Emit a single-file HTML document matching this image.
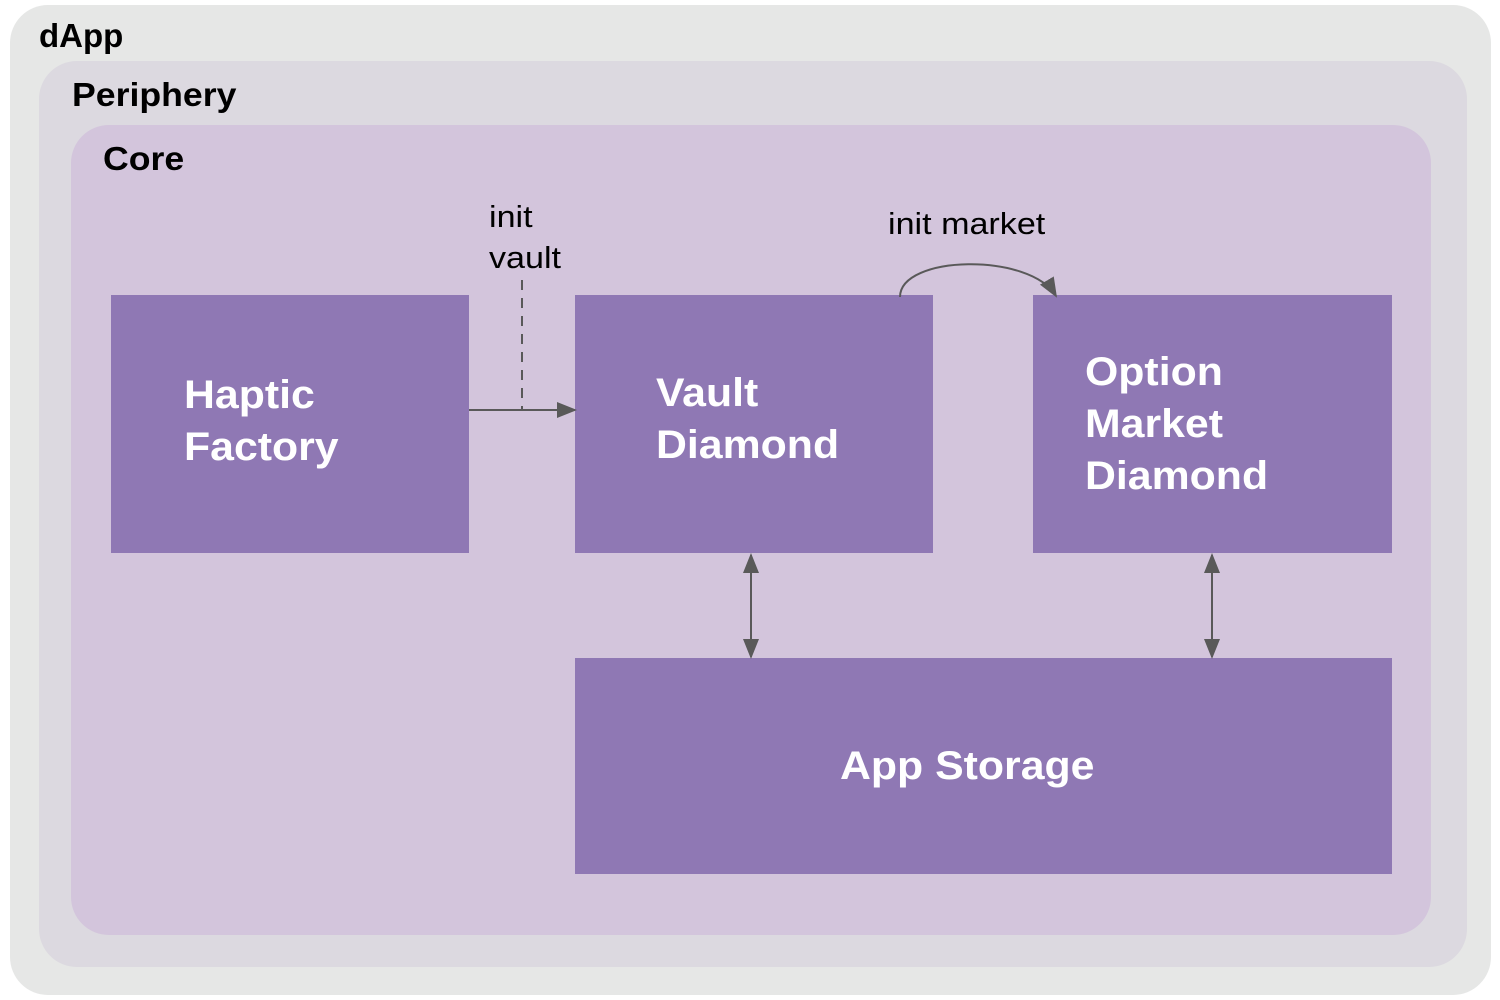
<!DOCTYPE html>
<html><head><style>
html,body{margin:0;padding:0;background:#fff;}
body{width:1500px;height:1000px;position:relative;overflow:hidden;font-family:"Liberation Sans",sans-serif;}
.a{position:absolute;}
.box{position:absolute;background:#8f78b4;color:#fff;font-weight:bold;font-size:40px;line-height:52px;}
.box .a{transform:scaleX(1.07);transform-origin:left top;}
.lbl{position:absolute;font-weight:bold;color:#000;font-size:33px;transform:scaleX(1.08);transform-origin:left top;}
.t{position:absolute;font-size:31px;color:#000;line-height:41px;transform:scaleX(1.1);transform-origin:left top;}
</style></head><body>
<div class="a" style="left:10px;top:5px;width:1481px;height:990px;background:#e6e7e6;border-radius:38px"></div>
<div class="a" style="left:39px;top:61px;width:1428px;height:906px;background:#dcd9e0;border-radius:38px"></div>
<div class="a" style="left:71px;top:125px;width:1360px;height:810px;background:#d3c5dc;border-radius:38px"></div>
<div class="lbl" style="left:39px;top:17px;transform:none">dApp</div>
<div class="lbl" style="left:72px;top:76px">Periphery</div>
<div class="lbl" style="left:103px;top:140px">Core</div>
<div class="box" style="left:111px;top:295px;width:358px;height:258px"><div class="a" style="left:73px;top:74px">Haptic<br>Factory</div></div>
<div class="box" style="left:575px;top:295px;width:358px;height:258px"><div class="a" style="left:81px;top:72px">Vault<br>Diamond</div></div>
<div class="box" style="left:1033px;top:295px;width:359px;height:258px"><div class="a" style="left:52px;top:51px">Option<br>Market<br>Diamond</div></div>
<div class="box" style="left:575px;top:658px;width:817px;height:216px"><div class="a" style="left:265px;top:82px">App Storage</div></div>
<div class="t" style="left:489px;top:196px">init<br>vault</div>
<div class="t" style="left:888px;top:203px">init market</div>
<svg class="a" style="left:0;top:0" width="1500" height="1000">
<defs>
<marker id="m2" markerWidth="20" markerHeight="20" refX="18" refY="10" orient="auto-start-reverse" markerUnits="userSpaceOnUse" viewBox="0 0 20 20"><path d="M0,2L20,10L0,18z" fill="#595959"/></marker></defs>
<line x1="522" y1="280" x2="522" y2="410" stroke="#595959" stroke-width="2" stroke-dasharray="10,8"/>
<line x1="469" y1="410" x2="575" y2="410" stroke="#595959" stroke-width="2" marker-end="url(#m2)"/>
<path d="M900,297 C900,255 1030,252 1056,296" fill="none" stroke="#595959" stroke-width="2" marker-end="url(#m2)"/>
<line x1="751" y1="555" x2="751" y2="657" stroke="#595959" stroke-width="2" marker-start="url(#m2)" marker-end="url(#m2)"/>
<line x1="1212" y1="555" x2="1212" y2="657" stroke="#595959" stroke-width="2" marker-start="url(#m2)" marker-end="url(#m2)"/>
</svg>
</body></html>
